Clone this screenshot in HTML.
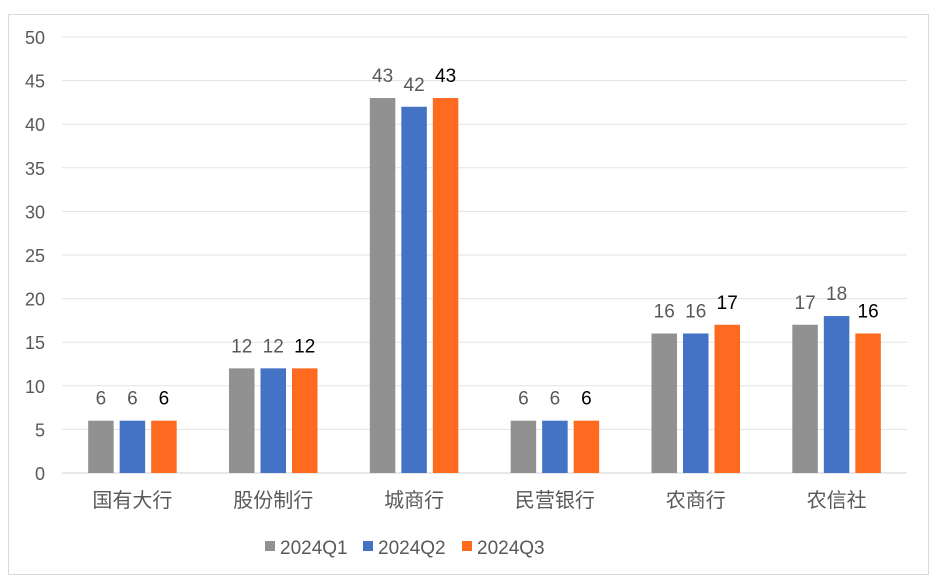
<!DOCTYPE html>
<html><head><meta charset="utf-8"><style>
body{margin:0;background:#fff;}
svg text{font-family:"Liberation Sans","Noto Sans CJK SC",sans-serif;}
</style></head><body>
<svg width="936" height="581" xmlns="http://www.w3.org/2000/svg">
<rect x="8.5" y="14.5" width="920" height="560" fill="#fff" stroke="#d9d9d9"/>
<g id="grid"></g>
<g id="bars"></g>
<g id="legend">
<rect x="265" y="541" width="10" height="10" fill="#919191"/>
<text x="280" y="554" font-size="19" fill="#595959">2024Q1</text>
<rect x="363" y="541" width="10" height="10" fill="#4472C4"/>
<text x="378" y="554" font-size="19" fill="#595959">2024Q2</text>
<rect x="462" y="541" width="10" height="10" fill="#FF6A21"/>
<text x="477" y="554" font-size="19" fill="#595959">2024Q3</text>
</g>
</svg>
<script>
const categories=["国有大行","股份制行","城商行","民营银行","农商行","农信社"];
const q1=[6,12,43,6,16,17];
const q2=[6,12,42,6,16,18];
const q3=[6,12,43,6,17,16];
const ticks=[0,5,10,15,20,25,30,35,40,45,50];
const NS="http://www.w3.org/2000/svg";
const x0=62,x1=907,yBase=473,yTop=37,maxV=50;
const y=v=>yBase-(yBase-yTop)*v/maxV;
const gw=(x1-x0)/categories.length;
const cx=i=>x0+gw*(i+0.5);
function mk(t,a,p){const e=document.createElementNS(NS,t);for(const k in a)e.setAttribute(k,a[k]);p.appendChild(e);return e;}
const grid=document.getElementById('grid');
ticks.forEach(t=>{
 const l=mk('line',{x1:x0,x2:x1,y1:y(t),y2:y(t),stroke:t===0?'#d0d0d0':'#e3e3e3','stroke-width':1},grid);
 
 
 const tx=mk('text',{x:45,y:y(t)+7,'font-size':18,fill:'#595959','text-anchor':'end'},grid);
 tx.textContent=t;
 
 
});
const series=[{d:q1,c:'#919191',lc:'#595959',n:'q1'},{d:q2,c:'#4472C4',lc:'#595959',n:'q2'},{d:q3,c:'#FF6A21',lc:'#000',n:'q3'}];
const bars=document.getElementById('bars');
const bw=25.5,step=31.5;
categories.forEach((c,i)=>{
 series.forEach((s,j)=>{
  const bx=cx(i)+(j-1)*step-bw/2;
  const v=s.d[i];
  const r=mk('rect',{x:bx,y:y(v),width:bw,height:yBase-y(v),fill:s.c},bars);
  
  
  const t=mk('text',{x:bx+bw/2,y:y(v)-16,'font-size':19,fill:s.lc,'text-anchor':'middle'},bars);
  t.textContent=v;
  
  
 });
 const t=mk('text',{x:cx(i),y:507,'font-size':20,fill:'#595959','text-anchor':'middle'},bars);
 t.textContent=c;
 
 
});
</script>
</body></html>
